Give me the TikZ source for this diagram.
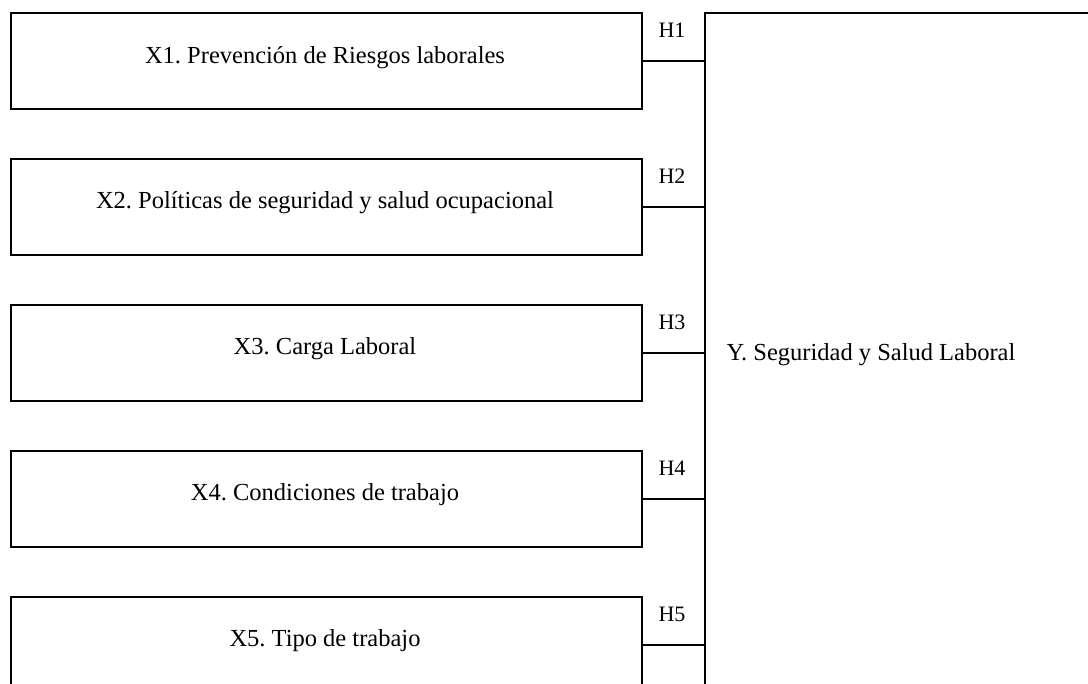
\documentclass[tikz,border=0pt]{standalone}
\usepackage{fontspec}
\setmainfont{Liberation Serif}
\frenchspacing
\begin{document}
\begin{tikzpicture}[x=1pt,y=-1pt,
  xbox/.style={draw=black,line width=2.2pt,minimum width=631pt,minimum height=96pt,inner sep=0pt,anchor=north west},
  ybox/.style={draw=black,line width=2.2pt,minimum width=420pt,minimum height=700pt,inner sep=0pt,anchor=north west},
  lbl/.style={font=\fontsize{24.5}{28}\selectfont,inner sep=0pt},
  hlbl/.style={font=\fontsize{22}{26}\selectfont,inner sep=0pt},
  conn/.style={draw=black,line width=2.2pt}]
\useasboundingbox (0,0) rectangle (1088,684);
\clip (0,0) rectangle (1088,684);
\node[ybox] (Y) at (704,12) {};
\node[lbl] (Ylabel) at (871,355) {Y. Seguridad y Salud Laboral};
\node[xbox] (X1) at (10,12) {};
\node[xbox] (X2) at (10,158) {};
\node[xbox] (X3) at (10,304) {};
\node[xbox] (X4) at (10,450) {};
\node[xbox] (X5) at (10,596) {};
\node[lbl] (T1) at (325,58) {X1. Prevención de Riesgos laborales};
\node[lbl] (T2) at (325,203) {X2. Políticas de seguridad y salud ocupacional};
\node[lbl] (T3) at (325,349) {X3. Carga Laboral};
\node[lbl] (T4) at (325,495) {X4. Condiciones de trabajo};
\node[lbl] (T5) at (325,641) {X5. Tipo de trabajo};
\foreach \i in {1,...,5}{
  \draw[conn] (X\i.east) -- (Y.west |- X\i.east);
}
\node[hlbl] (H1) at (672,30) {H1};
\node[hlbl] (H2) at (672,176) {H2};
\node[hlbl] (H3) at (672,322) {H3};
\node[hlbl] (H4) at (672,468) {H4};
\node[hlbl] (H5) at (672,614) {H5};
\end{tikzpicture}
\end{document}
